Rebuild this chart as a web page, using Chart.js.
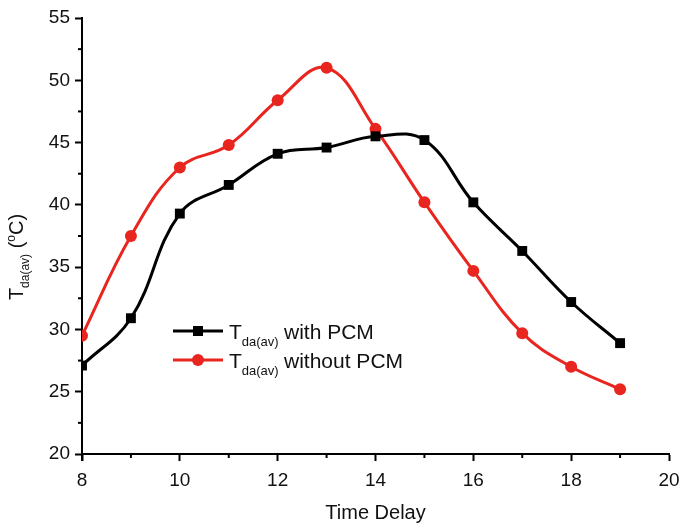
<!DOCTYPE html>
<html>
<head>
<meta charset="utf-8">
<script src="https://cdn.jsdelivr.net/npm/chart.js@4"></script>
<style>
html, body { margin: 0; padding: 0; background: #fff; }
#wrap { width: 682px; height: 527px; }
</style>
</head>
<body>
<div id="wrap"><canvas id="c"></canvas></div>
<script>
// data
var hours = [8, 9, 10, 11, 12, 13, 14, 15, 16, 17, 18, 19];
var withPCM = [27.1, 30.9, 39.3, 41.6, 44.1, 44.6, 45.5, 45.2, 40.2, 36.3, 32.2, 28.9];
var withoutPCM = [29.5, 37.5, 43.0, 44.8, 48.4, 51.0, 46.1, 40.2, 34.7, 29.7, 27.0, 25.2];
var seriesNames = ['with PCM', 'without PCM'];
var seriesColors = ['#000000', '#e8251f'];
var xTitle = 'Time Delay';

var FONT = '"Liberation Sans", Arial, sans-serif';

function pts(ys) {
    return hours.map((h, i) => ({ x: h, y: ys[i] }));
}

// minor ticks, y title and legend with subscripts
var extras = {
    id: 'extras',
    afterDraw(chart) {
        var ctx = chart.ctx;
        var xs = chart.scales.x, ys = chart.scales.y;
        var ca = chart.chartArea;
        ctx.save();
        ctx.strokeStyle = '#000';
        ctx.lineWidth = 2;
        for (var v = 9; v < 20; v += 2) {
            var px = xs.getPixelForValue(v);
            ctx.beginPath(); ctx.moveTo(px, ca.bottom); ctx.lineTo(px, ca.bottom + 4); ctx.stroke();
        }
        for (var w = 22.5; w < 55; w += 5) {
            var py = ys.getPixelForValue(w);
            ctx.beginPath(); ctx.moveTo(ca.left - 4, py); ctx.lineTo(ca.left, py); ctx.stroke();
        }
        // axis line runs a little below the x axis at x = 8
        ctx.beginPath(); ctx.moveTo(ca.left, ca.bottom); ctx.lineTo(ca.left, ca.bottom + 7); ctx.stroke();

        // y axis title
        ctx.fillStyle = '#111';
        ctx.textBaseline = 'alphabetic';
        var parts = [
            { t: 'T', f: '20px ' + FONT, dy: 0 },
            { t: 'da(av)', f: '12px ' + FONT, dy: 6 },
            { t: ' (', f: '20px ' + FONT, dy: 0 },
            { t: 'o', f: '12px ' + FONT, dy: -8 },
            { t: 'C)', f: '20px ' + FONT, dy: 0 }
        ];
        var total = 0;
        parts.forEach(p => { ctx.font = p.f; p.w = ctx.measureText(p.t).width; total += p.w; });
        ctx.translate(23, 257);
        ctx.rotate(-Math.PI / 2);
        var x = -total / 2;
        parts.forEach(p => { ctx.font = p.f; ctx.fillText(p.t, x, p.dy); x += p.w; });
        ctx.setTransform(1, 0, 0, 1, 0, 0);

        // legend
        chart.data.datasets.forEach((ds, i) => {
            var ly = 331 + i * 29;
            ctx.strokeStyle = ds.borderColor;
            ctx.lineWidth = 3;
            ctx.beginPath(); ctx.moveTo(173, ly); ctx.lineTo(223, ly); ctx.stroke();
            ctx.fillStyle = ds.borderColor;
            if (i === 0) {
                ctx.fillRect(198 - 5, ly - 5, 10, 10);
            } else {
                ctx.beginPath(); ctx.arc(198, ly, 6, 0, Math.PI * 2); ctx.fill();
            }
            ctx.fillStyle = '#111';
            ctx.font = '21px ' + FONT;
            ctx.fillText('T', 229, ly + 8);
            var tw = ctx.measureText('T').width;
            ctx.font = '13px ' + FONT;
            ctx.fillText('da(av)', 229 + tw, ly + 15);
            ctx.font = '21px ' + FONT;
            ctx.fillText(seriesNames[i], 284, ly + 8);
        });
        ctx.restore();
    }
};

var axisGrid = {
    display: true,
    drawOnChartArea: false,
    drawTicks: true,
    tickLength: 7,
    tickColor: '#000',
    tickWidth: 2
};

new Chart(document.getElementById('c'), {
    type: 'line',
    data: {
        datasets: [
            {
                label: seriesNames[0],
                data: pts(withPCM),
                borderColor: seriesColors[0],
                backgroundColor: seriesColors[0],
                borderWidth: 3,
                pointStyle: 'rect',
                pointRadius: 7,
                pointBorderWidth: 0,
                tension: 0.4
            },
            {
                label: seriesNames[1],
                data: pts(withoutPCM),
                borderColor: seriesColors[1],
                backgroundColor: seriesColors[1],
                borderWidth: 3,
                pointStyle: 'circle',
                pointRadius: 6,
                pointBorderWidth: 0,
                tension: 0.4
            }
        ]
    },
    options: {
        responsive: true,
        maintainAspectRatio: false,
        animation: false,
        layout: { autoPadding: false, padding: { top: 18, right: 13, left: 0, bottom: 0 } },
        plugins: { legend: { display: false }, tooltip: { enabled: false } },
        scales: {
            x: {
                type: 'linear',
                min: 8,
                max: 20,
                ticks: { stepSize: 2, color: '#111', font: { family: FONT, size: 19 }, padding: 8, maxRotation: 0 },
                grid: axisGrid,
                border: { color: '#000', width: 2 },
                title: { display: true, text: xTitle, color: '#111', font: { family: FONT, size: 20 }, padding: { top: 0, bottom: 2 } },
                afterFit(s) { s.height = 73; s.paddingRight = 12; s.paddingLeft = 0; }
            },
            y: {
                min: 20,
                max: 55,
                ticks: { stepSize: 5, color: '#111', font: { family: FONT, size: 19 }, padding: 5 },
                grid: axisGrid,
                border: { color: '#000', width: 2 },
                afterFit(s) { s.width = 82; }
            }
        }
    },
    plugins: [extras]
});
</script>
</body>
</html>
